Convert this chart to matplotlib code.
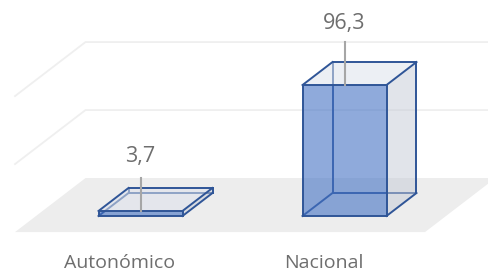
import matplotlib
matplotlib.use('Agg')
import matplotlib.pyplot as plt
from matplotlib.patches import Polygon

categories = ['Autonómico', 'Nacional']
values = [3.7, 96.3]
value_labels = ['3,7', '96,3']
grid_values = [50, 100]

# pixel scale of the fake 3d view
W, H = 488, 278
sx = 204.0          # px per category step
sy = 1.36           # px per value unit
x0_px, y0_px = 140.5, 216.0   # front-bottom centre of first bar
ddx = 30.0 / sx     # depth vector (one bar depth)
ddy = 23.0 / sy
df, db = -0.7, 1.65  # floor front / back depth
fl_left = (36 - x0_px) / sx
fl_right = (446 - x0_px) / sx
bw = 84.0 / sx

edge = '#2F5597'
txt = '#6E6E6E'
plt.rcParams['font.family'] = ['Open Sans', 'DejaVu Sans']

fig = plt.figure(figsize=(W / 100, H / 100), dpi=100)
ax = fig.add_axes([0, 0, 1, 1])
ax.set_xlim(-x0_px / sx, (W - x0_px) / sx)
ax.set_ylim((y0_px - H) / sy, y0_px / sy)
ax.axis('off')


def P(x, v, d):
    return (x + d * ddx, v + d * ddy)


# floor
floor = [P(fl_left, 0, df), P(fl_right, 0, df), P(fl_right, 0, db), P(fl_left, 0, db)]
ax.add_patch(Polygon(floor, closed=True, facecolor='#EDEDED', edgecolor='none', zorder=1))

# gridlines on left and back walls
xmax = ax.get_xlim()[1]
for g in grid_values:
    a = P(fl_left, g, df)
    b = P(fl_left, g, db)
    ax.plot([a[0], b[0], xmax], [a[1], b[1], b[1]], color='#EFEFEF', lw=1.3, zorder=1)

# bars
for i, v in enumerate(values):
    xa, xb = i - bw / 2, i + bw / 2
    FBL, FBR, FTL, FTR = P(xa, 0, 0), P(xb, 0, 0), P(xa, v, 0), P(xb, v, 0)
    BBL, BBR, BTL, BTR = P(xa, 0, 1), P(xb, 0, 1), P(xa, v, 1), P(xb, v, 1)
    # hidden edges
    for p, q in [(BBL, BBR), (BBL, BTL), (FBL, BBL)]:
        ax.plot([p[0], q[0]], [p[1], q[1]], color=edge, lw=1.4, zorder=2)
    # right and top faces
    ax.add_patch(Polygon([FBR, BBR, BTR, FTR], closed=True, facecolor='#C5CAD6',
                         alpha=0.5, edgecolor='none', zorder=3))
    ax.add_patch(Polygon([FTL, FTR, BTR, BTL], closed=True, facecolor='#DDE2EC',
                         alpha=0.55, edgecolor='none', zorder=3))
    for p, q in [(FBR, BBR), (BBR, BTR), (FTR, BTR), (FTL, BTL), (BTL, BTR)]:
        ax.plot([p[0], q[0]], [p[1], q[1]], color=edge, lw=1.4, zorder=4)
    # front face
    ax.add_patch(Polygon([FBL, FBR, FTR, FTL], closed=True, facecolor='#4472C4',
                         alpha=0.6, edgecolor='none', zorder=5))
    ax.add_patch(Polygon([FBL, FBR, FTR, FTL], closed=True, facecolor='none',
                         edgecolor=edge, lw=1.4, zorder=6))

# value labels with leader lines
lead_px = [33, 43]
label_px = [54, 62]
for i, (v, lab) in enumerate(zip(values, value_labels)):
    ax.plot([i, i], [v, v + lead_px[i] / sy], color='#A6A6A6', lw=1.5, zorder=7)
    ax.text(i, v + label_px[i] / sy, lab, ha='center', va='center',
            fontsize=15.5, color=txt, zorder=8)

# category labels along floor front
for i, c in enumerate(categories):
    x, y = P(i, 0, df)
    ax.text(x, y - 31 / sy, c, ha='center', va='center', fontsize=14, color=txt)

fig.savefig('out.png', dpi=100)
